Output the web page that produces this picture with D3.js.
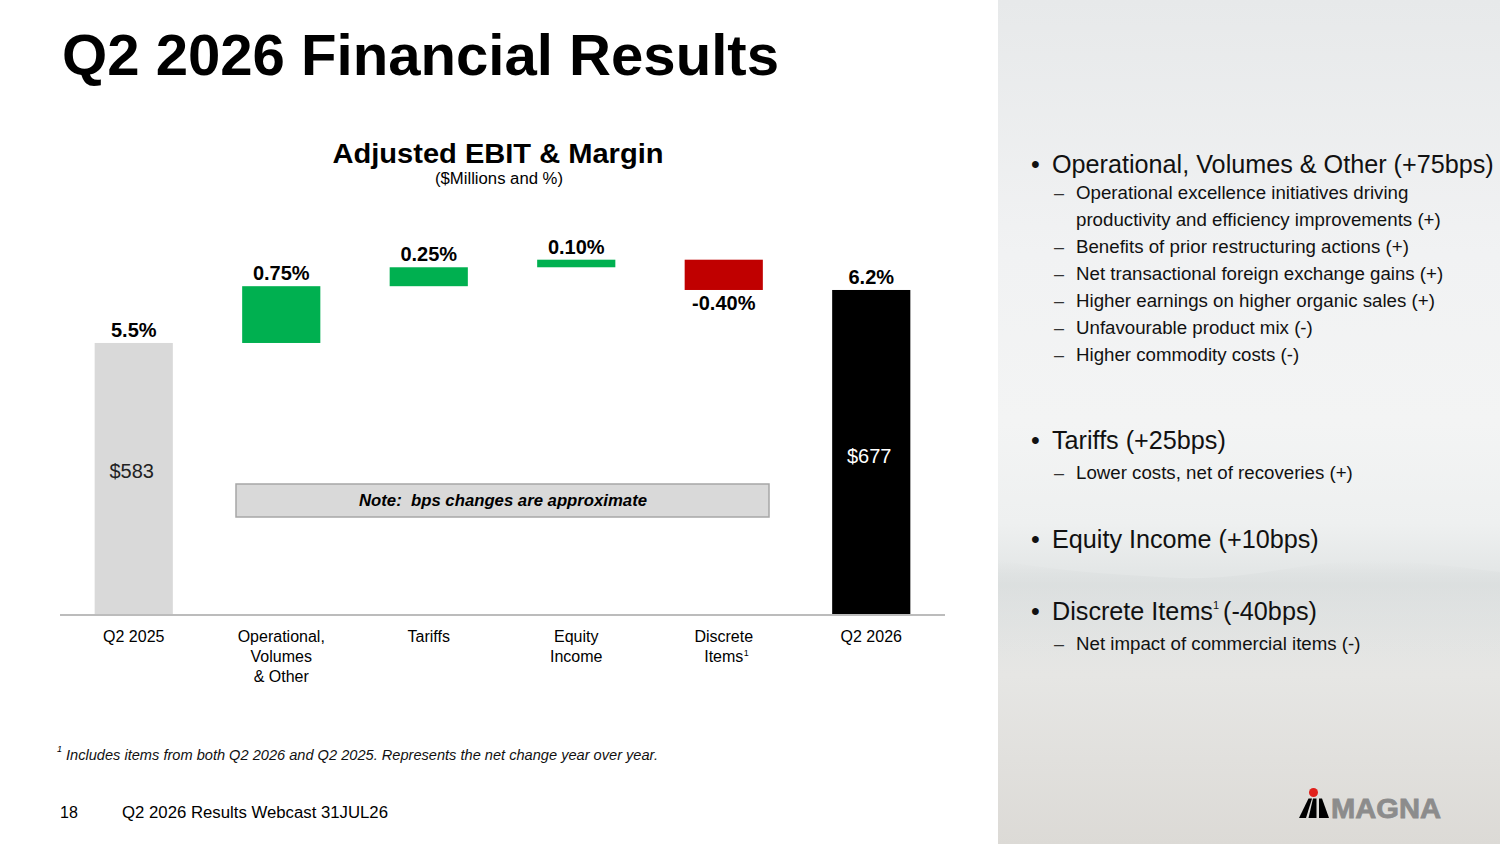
<!DOCTYPE html>
<html><head><meta charset="utf-8">
<script src="https://cdn.jsdelivr.net/npm/d3@7/dist/d3.min.js"></script>
<style>
html,body{margin:0;padding:0;background:#fff;}
svg{display:block;font-family:"Liberation Sans",Arial,sans-serif;}
</style></head>
<body>
<svg id="c" width="1500" height="844"></svg>
<script>
// ---- data ----
const categories = ["Q2 2025", "Operational, Volumes & Other", "Tariffs", "Equity Income", "Discrete Items", "Q2 2026"];
const categoryLines = [["Q2 2025"], ["Operational,", "Volumes", "& Other"], ["Tariffs"], ["Equity", "Income"], ["Discrete", "Items"], ["Q2 2026"]];
const categorySup = [false, false, false, false, true, false];
const marginValues = [5.5, 0.75, 0.25, 0.10, -0.40, 6.2];   // % (totals and changes)
const barTypes = ["total", "delta", "delta", "delta", "delta", "total"];
const marginLabels = ["5.5%", "0.75%", "0.25%", "0.10%", "-0.40%", "6.2%"];
const ebitLabels = ["$583", null, null, null, null, "$677"];
const axisFloor = 1.92; // axis is truncated (bars start above 0%)

const bulletHeads = ["Operational, Volumes & Other (+75bps)", "Tariffs (+25bps)", "Equity Income (+10bps)", "Discrete Items|(-40bps)"];
const bulletSubs = [
  ["Operational excellence initiatives driving|productivity and efficiency improvements (+)", "Benefits of prior restructuring actions (+)", "Net transactional foreign exchange gains (+)", "Higher earnings on higher organic sales (+)", "Unfavourable product mix (-)", "Higher commodity costs (-)"],
  ["Lower costs, net of recoveries (+)"],
  [],
  ["Net impact of commercial items (-)"]
];

// ---- derived waterfall ----
let run = 0;
const bars = marginValues.map((v, i) => {
  let y0, y1;
  if (barTypes[i] === "total") { y0 = axisFloor; y1 = v; run = v; }
  else { y0 = run; y1 = run + v; run = y1; }
  return {cat: categories[i], v, type: barTypes[i], lo: Math.min(y0, y1), hi: Math.max(y0, y1), label: marginLabels[i], ebit: ebitLabels[i], i};
});

const svg = d3.select("#c");

// ---- right panel background ----
const defs = svg.append("defs");
const g1 = defs.append("linearGradient").attr("id", "bg").attr("x1", 0).attr("y1", 0).attr("x2", 0).attr("y2", 1);
[[0, "#e7e9ea"], [0.3, "#f1f2f3"], [0.5, "#f3f4f4"], [0.62, "#eef0f0"], [0.68, "#e3e6e6"], [0.74, "#e2e4e3"], [0.8, "#e6e6e4"], [1, "#dcdad6"]]
  .forEach(s => g1.append("stop").attr("offset", s[0]).attr("stop-color", s[1]));
const g2 = defs.append("linearGradient").attr("id", "mist").attr("x1", 0).attr("y1", 0).attr("x2", 0).attr("y2", 1);
[[0, "#d6dada", 0.0], [0.25, "#d6dada", 0.55], [0.6, "#dcdfdf", 0.35], [1, "#e2e3e2", 0]]
  .forEach(s => g2.append("stop").attr("offset", s[0]).attr("stop-color", s[1]).attr("stop-opacity", s[2]));
svg.append("rect").attr("x", 998).attr("y", 0).attr("width", 502).attr("height", 844).attr("fill", "url(#bg)");
svg.append("path")
  .attr("d", "M998,560 C1060,572 1120,575 1180,578 C1240,580 1290,566 1340,562 C1400,558 1450,566 1500,572 L1500,660 L998,660 Z")
  .attr("fill", "url(#mist)");

// ---- title ----
svg.append("text").attr("x", 62).attr("y", 75).attr("font-size", 58).attr("font-weight", "bold").attr("fill", "#000")
  .attr("textLength", 717).attr("lengthAdjust", "spacingAndGlyphs").text("Q2 2026 Financial Results");

svg.append("text").attr("x", 498).attr("y", 163).attr("text-anchor", "middle").attr("font-size", 28).attr("font-weight", "bold")
  .attr("textLength", 331).attr("lengthAdjust", "spacingAndGlyphs").text("Adjusted EBIT & Margin");
svg.append("text").attr("x", 499).attr("y", 184).attr("text-anchor", "middle").attr("font-size", 16)
  .attr("textLength", 128).attr("lengthAdjust", "spacingAndGlyphs").text("($Millions and %)");

// ---- scales ----
const x = d3.scaleBand().domain(categories).range([60, 945]).paddingInner(0.47).paddingOuter(0.235);
const y = d3.scaleLinear().domain([axisFloor, 6.6]).range([614, 259.7]);
const color = d => d.type === "total" ? (d.i === 0 ? "#d9d9d9" : "#000000") : (d.v >= 0 ? "#00b050" : "#c00000");

// bars
svg.append("g").selectAll("rect").data(bars).join("rect")
  .attr("x", d => x(d.cat)).attr("width", x.bandwidth())
  .attr("y", d => y(d.hi)).attr("height", d => y(d.lo) - y(d.hi))
  .attr("fill", color);

// axis
const xAxis = d3.axisBottom(x).tickSize(0).tickFormat("");
const ax = svg.append("g").attr("transform", "translate(0,615)").call(xAxis);
ax.select(".domain").attr("stroke", "#a6a6a6").attr("stroke-width", 1.5).attr("d", "M60,0H945");

// category labels
const catG = svg.append("g");
bars.forEach((d, i) => {
  const cx = x(d.cat) + x.bandwidth() / 2;
  categoryLines[i].forEach((ln, k) => {
    catG.append("text").attr("x", cx).attr("y", 642 + k * 20).attr("text-anchor", "middle")
      .attr("font-size", 16).attr("fill", "#000").text(ln);
  });
  if (categorySup[i]) {
    catG.append("text").attr("x", cx + 20).attr("y", 656).attr("font-size", 9).text("1");
  }
});

// margin labels
svg.append("g").selectAll("text").data(bars).join("text")
  .attr("x", d => x(d.cat) + x.bandwidth() / 2)
  .attr("y", d => d.v < 0 ? y(d.lo) + 20 : y(d.hi) - 6)
  .attr("text-anchor", "middle").attr("font-size", 20).attr("font-weight", "bold").attr("fill", "#000")
  .text(d => d.label);

// EBIT labels
svg.append("g").selectAll("text").data(bars.filter(d => d.ebit)).join("text")
  .attr("x", d => x(d.cat) + x.bandwidth() / 2 - 2)
  .attr("y", d => (y(d.lo) + y(d.hi)) / 2 + (d.i === 0 ? 0 : 11))
  .attr("text-anchor", "middle").attr("font-size", 20)
  .attr("fill", d => d.i === 0 ? "#222" : "#fff").text(d => d.ebit);

// note box
svg.append("rect").attr("x", 236).attr("y", 484).attr("width", 533).attr("height", 33)
  .attr("fill", "#d9d9d9").attr("stroke", "#a6a6a6").attr("stroke-width", 1.5);
svg.append("text").attr("x", 503).attr("y", 506).attr("text-anchor", "middle").attr("font-size", 16)
  .attr("font-weight", "bold").attr("font-style", "italic").attr("textLength", 288).attr("lengthAdjust", "spacingAndGlyphs")
  .attr("xml:space", "preserve").text("Note:  bps changes are approximate");

// footnote
svg.append("text").attr("x", 57).attr("y", 752).attr("font-size", 9).attr("font-style", "italic").text("1");
svg.append("text").attr("x", 66).attr("y", 760).attr("font-size", 14).attr("font-style", "italic").attr("fill", "#111")
  .attr("textLength", 592).attr("lengthAdjust", "spacingAndGlyphs")
  .text("Includes items from both Q2 2026 and Q2 2025. Represents the net change year over year.");

// footer
svg.append("text").attr("x", 60).attr("y", 818).attr("font-size", 16).text("18");
svg.append("text").attr("x", 122).attr("y", 818).attr("font-size", 16)
  .attr("textLength", 266).attr("lengthAdjust", "spacingAndGlyphs").text("Q2 2026 Results Webcast 31JUL26");

// ---- right panel bullets ----
const headY = [173, 449, 548, 620];
const rp = svg.append("g").attr("fill", "#111");
bulletHeads.forEach((h, i) => {
  rp.append("text").attr("x", 1031).attr("y", headY[i]).attr("font-size", 25).text("•");
  const parts = h.split("|");
  const t = rp.append("text").attr("x", 1052).attr("y", headY[i]).attr("font-size", 25.2);
  t.append("tspan").text(parts[0]);
  if (parts.length > 1) {
    t.append("tspan").attr("font-size", 11).attr("dy", -11).text("1");
    t.append("tspan").attr("dy", 11).attr("font-size", 25.2).attr("dx", 4).text(parts[1]);
  }
  let ly = headY[i] + (i === 0 ? 26 : 30);
  bulletSubs[i].forEach(s => {
    const lines = s.split("|");
    rp.append("text").attr("x", 1054).attr("y", ly).attr("font-size", 18).attr("fill", "#333").text("–");
    lines.forEach(l => {
      rp.append("text").attr("x", 1076).attr("y", ly).attr("font-size", 18.7).text(l);
      ly += 27;
    });
  });
});

// ---- logo ----
const lg = svg.append("g");
lg.append("circle").attr("cx", 1313.5).attr("cy", 792.5).attr("r", 4.5).attr("fill", "#e0201b");
[[[1299,818],[1308.5,798.5],[1312,798.5],[1306,818]],
 [[1308.5,818],[1313,798.5],[1316.5,798.5],[1316.5,818]],
 [[1319,818],[1319,798.5],[1322,798.5],[1329,818]]].forEach(p => {
  lg.append("polygon").attr("points", p.map(q => q.join(",")).join(" ")).attr("fill", "#000");
});
lg.append("text").attr("x", 1331).attr("y", 818).attr("font-size", 28).attr("font-weight", 900)
  .attr("fill", "#8c8c8c").attr("stroke", "#8c8c8c").attr("stroke-width", 0.8)
  .attr("textLength", 110).attr("lengthAdjust", "spacingAndGlyphs").text("MAGNA");
</script>
</body></html>
